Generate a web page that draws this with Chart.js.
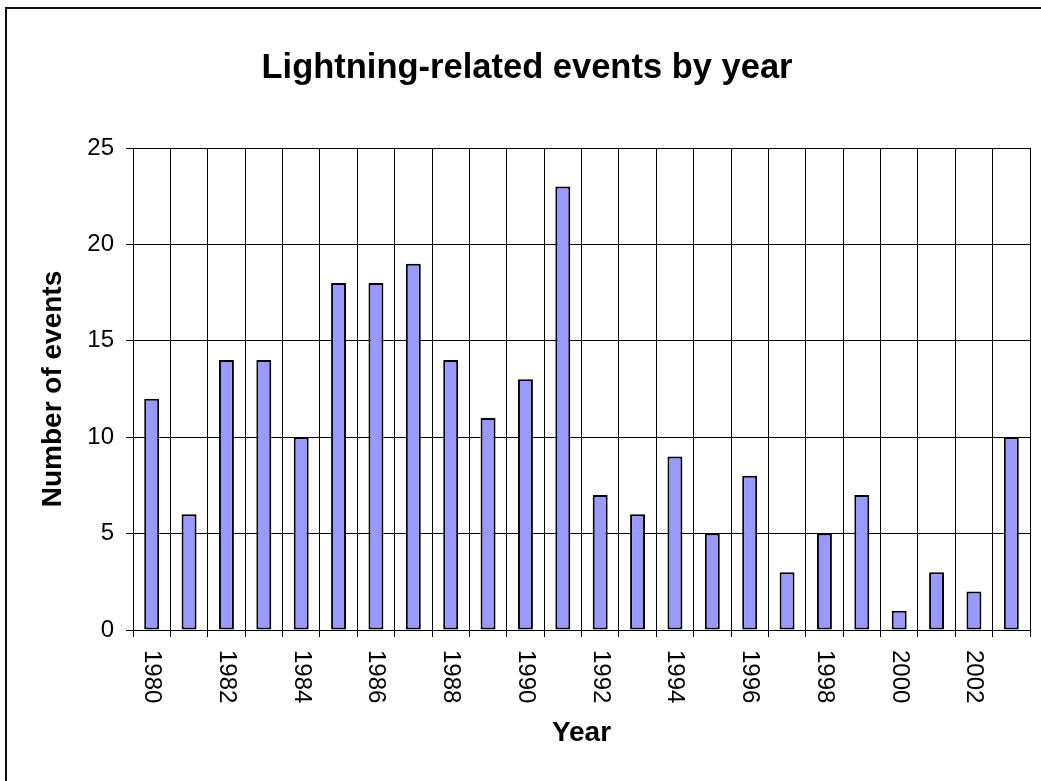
<!DOCTYPE html>
<html>
<head>
<meta charset="utf-8">
<title>Lightning-related events by year</title>
<script src="https://cdn.jsdelivr.net/npm/chart.js@4/dist/chart.umd.min.js"></script>
<style>
  body { margin: 0; background: #fff; overflow: hidden; }
  canvas { display: block; }
</style>
</head>
<body>
<canvas id="chart" width="1041" height="781"></canvas>
<script>
// Chart data
const chartTitle = 'Lightning-related events by year'
const years = ['1980', '1981', '1982', '1983', '1984', '1985', '1986', '1987', '1988', '1989', '1990', '1991',
  '1992', '1993', '1994', '1995', '1996', '1997', '1998', '1999', '2000', '2001', '2002', '2003']
const events = [12, 6, 14, 14, 10, 18, 18, 19, 14, 11, 13, 23, 7, 6, 9, 5, 8, 3, 5, 7, 1, 3, 2, 10]
const yTicks = [0, 5, 10, 15, 20, 25]
const xLabelStep = 2 // only every other year is labelled

const fontFamily = '"Liberation Sans", Arial, sans-serif'
Chart.defaults.font.family = fontFamily
Chart.defaults.color = '#000'

// White background and the outer chart frame
const framePlugin = {
  id: 'frame',
  beforeDraw(chart) {
    const ctx = chart.ctx
    ctx.save()
    ctx.fillStyle = '#fff'
    ctx.fillRect(0, 0, chart.width, chart.height)
    ctx.strokeStyle = '#111'
    ctx.lineWidth = 2
    ctx.strokeRect(6, 8, chart.width + 40, chart.height + 40)
    ctx.restore()
  }
}

// Title, centred on the frame rather than the canvas
const titlePlugin = {
  id: 'bigTitle',
  afterDraw(chart) {
    const ctx = chart.ctx
    ctx.save()
    ctx.font = `bold 34.5px ${fontFamily}`
    ctx.fillStyle = '#000'
    ctx.textAlign = 'center'
    ctx.textBaseline = 'alphabetic'
    ctx.fillText(chartTitle, 527, 78)
    ctx.restore()
  }
}

// Year labels rotated clockwise (reading top to bottom)
const yearLabelsPlugin = {
  id: 'yearLabels',
  afterDraw(chart) {
    const ctx = chart.ctx
    const xScale = chart.scales.x
    ctx.save()
    ctx.font = `24px ${fontFamily}`
    ctx.fillStyle = '#000'
    ctx.textAlign = 'left'
    ctx.textBaseline = 'middle'
    years.forEach((year, i) => {
      if (i % xLabelStep !== 0) return
      ctx.save()
      ctx.translate(xScale.getPixelForValue(i), xScale.top + 20)
      ctx.rotate(Math.PI / 2)
      ctx.fillText(year, 0, 0)
      ctx.restore()
    })
    ctx.restore()
  }
}

const chart = new Chart(document.getElementById('chart').getContext('2d'), {
  type: 'bar',
  data: {
    labels: years,
    datasets: [
      {
        label: 'Number of events',
        data: events,
        backgroundColor: '#9999FF',
        borderColor: '#000',
        borderWidth: 2,
        borderSkipped: false,
        barPercentage: 0.4,
        categoryPercentage: 1.0
      }
    ]
  },
  options: {
    responsive: false,
    animation: false,
    devicePixelRatio: 1,
    layout: {
      padding: { top: 148, right: 11, left: 0, bottom: 0 }
    },
    scales: {
      x: {
        offset: true,
        grid: {
          offset: true,
          color: '#000',
          lineWidth: 1,
          drawTicks: true,
          tickLength: 7
        },
        border: { display: true, color: '#000', width: 1 },
        ticks: { display: false, autoSkip: false },
        title: {
          display: true,
          text: 'Year',
          font: { size: 28, weight: 'bold' },
          padding: { top: 0, bottom: 31 }
        },
        afterFit(scale) {
          scale.height = 151
        }
      },
      y: {
        min: yTicks[0],
        max: yTicks[yTicks.length - 1],
        grid: {
          color: '#000',
          lineWidth: 1,
          drawTicks: true,
          tickLength: 7
        },
        border: { display: true, color: '#000', width: 1 },
        ticks: {
          stepSize: yTicks[1] - yTicks[0],
          padding: 12,
          font: { size: 24 }
        },
        title: {
          display: true,
          text: 'Number of events',
          font: { size: 28, weight: 'bold' },
          padding: { top: 36, bottom: 0 }
        },
        afterFit(scale) {
          scale.width = 133
        }
      }
    },
    plugins: {
      legend: { display: false },
      title: { display: false },
      tooltip: { enabled: false }
    }
  },
  plugins: [framePlugin, titlePlugin, yearLabelsPlugin]
})
</script>
</body>
</html>
